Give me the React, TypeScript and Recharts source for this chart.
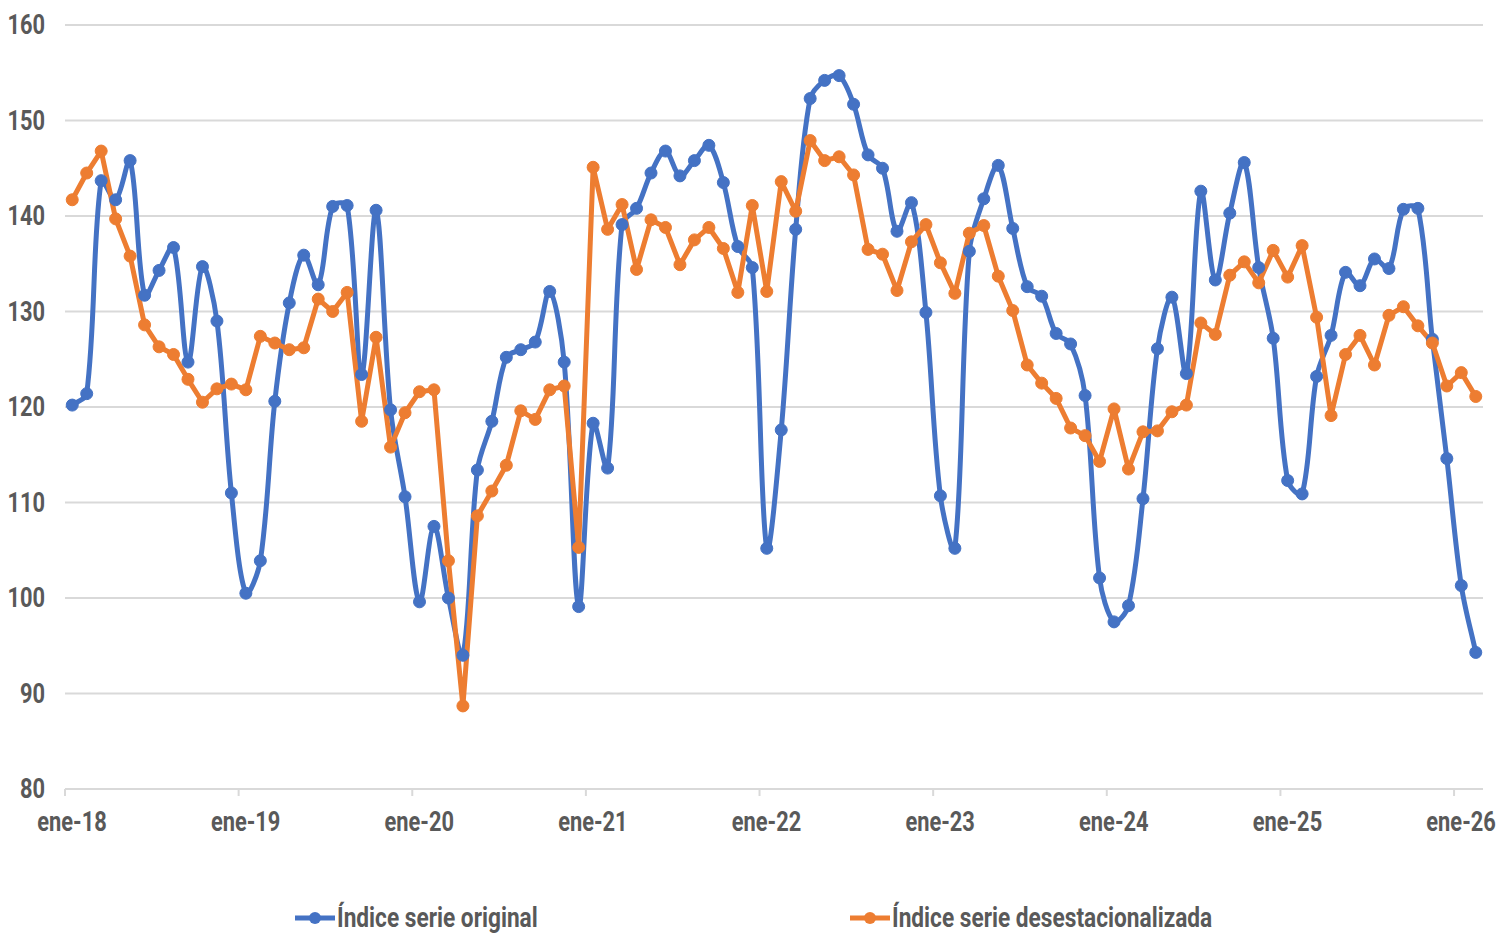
import { LineChart, Line, XAxis, YAxis, CartesianGrid, Legend } from "recharts";

const meses = ["ene", "feb", "mar", "abr", "may", "jun", "jul", "ago", "sep", "oct", "nov", "dic"];
const anios = ["18", "19", "20", "21", "22", "23", "24", "25", "26"];
const ticksX = ["ene-18", "ene-19", "ene-20", "ene-21", "ene-22", "ene-23", "ene-24", "ene-25", "ene-26"];
const ticksY = [80, 90, 100, 110, 120, 130, 140, 150, 160];

// Índice serie original (ene-18 .. feb-26)
const serieOriginal = [
  120.2, 121.4, 143.7, 141.7, 145.8, 131.7, 134.3, 136.7, 124.7, 134.7, 129.0, 111.0,
  100.5, 103.9, 120.6, 130.9, 135.9, 132.8, 141.0, 141.1, 123.4, 140.6, 119.7, 110.6,
  99.6, 107.5, 100.0, 94.0, 113.4, 118.5, 125.2, 126.0, 126.8, 132.1, 124.7, 99.1,
  118.3, 113.6, 139.1, 140.8, 144.5, 146.8, 144.2, 145.8, 147.4, 143.5, 136.8, 134.6,
  105.2, 117.6, 138.6, 152.3, 154.2, 154.7, 151.7, 146.4, 145.0, 138.4, 141.4, 129.9,
  110.7, 105.2, 136.3, 141.8, 145.3, 138.7, 132.6, 131.6, 127.7, 126.6, 121.2, 102.1,
  97.5, 99.2, 110.4, 126.1, 131.5, 123.5, 142.6, 133.3, 140.3, 145.6, 134.6, 127.2,
  112.3, 110.9, 123.2, 127.5, 134.1, 132.7, 135.5, 134.5, 140.7, 140.8, 127.1, 114.6,
  101.3, 94.3,
];

// Índice serie desestacionalizada
const serieDesest = [
  141.7, 144.5, 146.8, 139.7, 135.8, 128.6, 126.3, 125.5, 122.9, 120.5, 121.9, 122.4,
  121.8, 127.4, 126.7, 126.0, 126.2, 131.3, 130.0, 132.0, 118.5, 127.3, 115.8, 119.4,
  121.6, 121.8, 103.9, 88.7, 108.6, 111.2, 113.9, 119.6, 118.7, 121.8, 122.2, 105.3,
  145.1, 138.6, 141.2, 134.4, 139.6, 138.8, 134.9, 137.5, 138.8, 136.6, 132.0, 141.1,
  132.1, 143.6, 140.5, 147.9, 145.8, 146.2, 144.3, 136.5, 136.0, 132.2, 137.3, 139.1,
  135.1, 131.9, 138.2, 139.0, 133.7, 130.1, 124.4, 122.5, 120.9, 117.8, 117.0, 114.3,
  119.8, 113.5, 117.4, 117.5, 119.5, 120.2, 128.8, 127.6, 133.8, 135.2, 133.0, 136.4,
  133.6, 136.9, 129.4, 119.1, 125.5, 127.5, 124.4, 129.6, 130.5, 128.5, 126.7, 122.2,
  123.6, 121.1,
];

const AZUL = "#4472C4";
const NARANJA = "#ED7D31";
const GRIS = "#595959";
const FONT = "Roboto, 'Noto Sans', sans-serif";

const data = serieOriginal.map((v, i) => ({
  periodo: `${meses[i % 12]}-${anios[Math.floor(i / 12)]}`,
  pos: i + 0.5,
  original: v,
  desest: serieDesest[i],
}));

// suavizado tipo Excel: tangente repartida según la longitud de cada tramo
function curvaSuave(context: any) {
  let pts: [number, number][] = [];
  const dist = (a: [number, number], b: [number, number]) => Math.hypot(b[0] - a[0], b[1] - a[1]);
  return {
    areaStart() {},
    areaEnd() {},
    lineStart() {
      pts = [];
    },
    point(x: number, y: number) {
      pts.push([x, y]);
    },
    lineEnd() {
      const n = pts.length;
      if (!n) return;
      const cin: [number, number][] = [];
      const cout: [number, number][] = [];
      for (let i = 0; i < n; i++) {
        const p0 = pts[i - 1] || pts[i];
        const p1 = pts[i];
        const p2 = pts[i + 1] || pts[i];
        const d01 = dist(p0, p1);
        const d12 = dist(p1, p2);
        const s = d01 + d12 || 1;
        const tx = (p2[0] - p0[0]) / 3;
        const ty = (p2[1] - p0[1]) / 3;
        cout.push([p1[0] + (tx * d12) / s, p1[1] + (ty * d12) / s]);
        cin.push([p1[0] - (tx * d01) / s, p1[1] - (ty * d01) / s]);
      }
      context.moveTo(pts[0][0], pts[0][1]);
      for (let i = 0; i < n - 1; i++) {
        context.bezierCurveTo(cout[i][0], cout[i][1], cin[i + 1][0], cin[i + 1][1], pts[i + 1][0], pts[i + 1][1]);
      }
    },
  };
}

const XTick = ({ x, y, payload }: any) => (
  <text
    transform={`translate(${x + 7},${y + 33}) scale(0.78,1)`}
    textAnchor="middle"
    fill={GRIS}
    fontFamily={FONT}
    fontWeight={700}
    fontSize={28}
  >
    {ticksX[Math.round(payload.value / 12)]}
  </text>
);

const YTick = ({ x, y, payload }: any) => (
  <text
    transform={`translate(${x},${y + 9}) scale(0.78,1)`}
    textAnchor="end"
    fill={GRIS}
    fontFamily={FONT}
    fontWeight={700}
    fontSize={28}
  >
    {payload.value}
  </text>
);

const leyenda = [
  { label: "Índice serie original", color: AZUL, x: 295 },
  { label: "Índice serie desestacionalizada", color: NARANJA, x: 850 },
];

const LegendContent = () => (
  <svg width={1512} height={40} style={{ display: "block" }}>
    {leyenda.map((it) => (
      <g key={it.label}>
        <line x1={it.x} x2={it.x + 40} y1={23} y2={23} stroke={it.color} strokeWidth={5} />
        <circle cx={it.x + 20} cy={23} r={6} fill={it.color} />
        <text
          transform={`translate(${it.x + 42},32) scale(0.84,1)`}
          fill={GRIS}
          fontFamily={FONT}
          fontWeight={700}
          fontSize={27}
        >
          {it.label}
        </text>
      </g>
    ))}
  </svg>
);

export default function App() {
  return (
    <div style={{ position: "absolute", left: 0, top: 0, width: 1512, height: 936, background: "#fff" }}>
      <LineChart width={1512} height={936} data={data} margin={{ top: 25, right: 29, left: 0, bottom: 47 }}>
        <CartesianGrid vertical={false} stroke="#d9d9d9" strokeWidth={2} />
        <XAxis
          dataKey="pos"
          type="number"
          domain={[0, 98]}
          ticks={ticksX.map((_, k) => k * 12)}
          interval={0}
          height={60}
          stroke="#d9d9d9"
          strokeWidth={2}
          tickSize={7}
          tick={<XTick />}
        />
        <YAxis
          type="number"
          domain={[80, 160]}
          ticks={ticksY}
          interval={0}
          width={65}
          axisLine={false}
          tickLine={false}
          tickSize={0}
          tickMargin={20}
          tick={<YTick />}
        />
        <Legend
          verticalAlign="bottom"
          content={<LegendContent />}
          wrapperStyle={{ position: "absolute", left: 0, top: 895, width: 1512, height: 40 }}
        />
        <Line
          dataKey="original"
          name="Índice serie original"
          type={curvaSuave as any}
          stroke={AZUL}
          strokeWidth={5}
          dot={{ r: 6, fill: AZUL, stroke: AZUL, strokeWidth: 1 }}
          activeDot={false}
          isAnimationActive={false}
        />
        <Line
          dataKey="desest"
          name="Índice serie desestacionalizada"
          type="linear"
          stroke={NARANJA}
          strokeWidth={5}
          strokeLinejoin="round"
          dot={{ r: 6, fill: NARANJA, stroke: NARANJA, strokeWidth: 1 }}
          activeDot={false}
          isAnimationActive={false}
        />
      </LineChart>
    </div>
  );
}
